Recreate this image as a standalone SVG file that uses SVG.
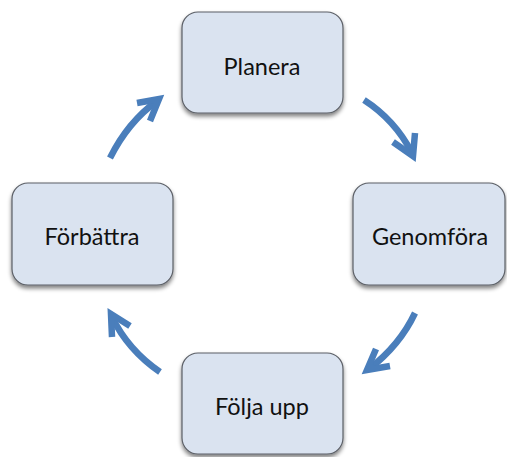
<svg xmlns="http://www.w3.org/2000/svg" width="507" height="457" viewBox="0 0 507 457">
<defs>
<filter id="sh" x="-10%" y="-10%" width="120%" height="130%">
<feGaussianBlur in="SourceAlpha" stdDeviation="2"/>
<feOffset dx="0" dy="3" result="b"/>
<feComponentTransfer><feFuncA type="linear" slope="0.5"/></feComponentTransfer>
<feMerge><feMergeNode/><feMergeNode in="SourceGraphic"/></feMerge>
</filter>
</defs>
<style>
.box{fill:#dae3f0;stroke:#5b5f66;stroke-width:1.2;filter:url(#sh)}
.lbl{font-family:Lato,"Open Sans","Liberation Sans",sans-serif;font-size:23.5px;fill:#111;text-anchor:middle}
.arr{fill:none;stroke:#4a7ebb;stroke-width:6.5;stroke-linecap:butt}
.hd{fill:none;stroke:#4a7ebb;stroke-width:6.5;stroke-linejoin:miter;stroke-miterlimit:10}
</style>
<rect width="507" height="457" fill="#fff"/>
<g id="planera"><rect class="box" x="182" y="12" width="161" height="101" rx="16"/><text class="lbl" x="262" y="75">Planera</text></g>
<g id="genomfora"><rect class="box" x="353" y="183" width="152" height="102" rx="16"/><text class="lbl" x="430" y="245">Genomföra</text></g>
<g id="folja-upp"><rect class="box" x="182" y="353" width="161" height="101" rx="16"/><text class="lbl" x="262" y="415">Följa upp</text></g>
<g id="forbattra"><rect class="box" x="12" y="183" width="161" height="102" rx="16"/><text class="lbl" x="92" y="245">Förbättra</text></g>
<g id="connectors">
<path class="arr" d="M364,100 Q395,120 412,153"/>
<path class="hd" d="M393,142 L413,156 L415,133"/>
<path class="arr" d="M415,313 Q400,345 369,369"/>
<path class="hd" d="M376,349 L367,370 L390,366"/>
<path class="arr" d="M160,372 Q128,350 112,317"/>
<path class="hd" d="M112,337 L111,314 L130,326"/>
<path class="arr" d="M110,158 Q128,122 157,101"/>
<path class="hd" d="M137,103 L159,99 L150,121"/>
</g>
</svg>
